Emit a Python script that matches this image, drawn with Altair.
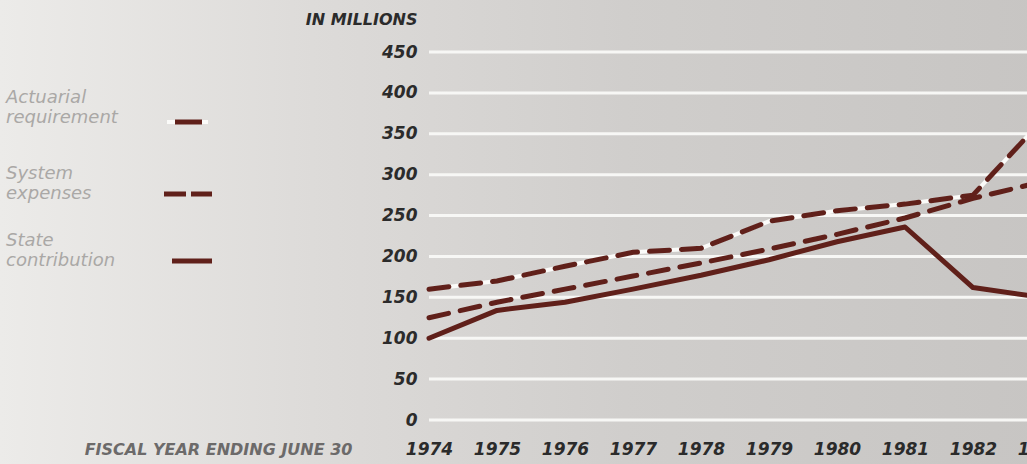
import altair as alt
import pandas as pd

# Retirement system funding, fiscal years 1974-1983 (millions of dollars)
years = list(range(1974, 1984))
actuarial_requirement = [160, 170, 188, 205, 210, 243, 256, 264, 275, 365]
system_expenses = [125, 144, 160, 176, 192, 209, 227, 247, 271, 291]
state_contribution = [100, 134, 144, 160, 177, 196, 218, 236, 162, 150]
y_ticks = list(range(0, 451, 50))

MAROON = "#60201a"
GRID = "#f7f7f5"
LABEL_FONT = "DejaVu Sans"
DARK = "#2b2b2b"
FADED = "#aaa8a6"

PLOT_W, PLOT_H = 612, 368

df = pd.DataFrame({
    "year": years,
    "actuarial": actuarial_requirement,
    "expenses": system_expenses,
    "state": state_contribution,
})

x_enc = alt.X(
    "year:Q",
    scale=alt.Scale(domain=[1974, 1983], nice=False, zero=False),
    axis=alt.Axis(
        values=years, format="d", grid=False, domain=False, ticks=False, tickSize=0,
        labelPadding=29, labelBaseline="middle", labelFont=LABEL_FONT, labelFontSize=17,
        labelFontStyle="italic", labelFontWeight="bold", labelColor=DARK,
        labelOverlap=False, labelFlush=False, zindex=1,
        title="FISCAL YEAR ENDING JUNE 30", titleX=-77, titleY=29, titleAlign="right",
        titleBaseline="middle", titleAngle=0, titleFont=LABEL_FONT, titleFontSize=16,
        titleFontStyle="italic", titleFontWeight="bold", titleColor="#6c6a6a",
    ),
)

y_scale = alt.Scale(domain=[0, 450], nice=False)
y_axis = alt.Axis(
    values=y_ticks, grid=False, domain=False, zindex=1,
    ticks=False, tickSize=0, labelPadding=12, labelFont=LABEL_FONT, labelFontSize=17,
    labelFontStyle="italic", labelFontWeight="bold", labelColor=DARK,
    title="IN MILLIONS", titleX=-12, titleY=-33, titleAlign="right", titleBaseline="middle",
    titleAngle=0, titleFont=LABEL_FONT, titleFontSize=16, titleFontStyle="italic",
    titleFontWeight="bold", titleColor=DARK,
)

base = alt.Chart(df)

# paper-toned backdrop spanning the whole canvas
backdrop = alt.Chart(pd.DataFrame({"k": [0]})).mark_rect(
    color=alt.Gradient(
        gradient="linear", x1=0, x2=1, y1=0, y2=0,
        stops=[
            alt.GradientStop(color="#ecebe9", offset=0),
            alt.GradientStop(color="#dddbd9", offset=0.3),
            alt.GradientStop(color="#d0cecc", offset=0.6),
            alt.GradientStop(color="#c7c5c3", offset=1),
        ],
    )
).encode(x=alt.value(-429), x2=alt.value(PLOT_W), y=alt.value(-52), y2=alt.value(PLOT_H + 44))

# white horizontal gridlines at each value tick
grid = alt.Chart(pd.DataFrame({"v": y_ticks})).mark_rule(color=GRID, strokeWidth=3).encode(
    y=alt.Y("v:Q", scale=y_scale, axis=y_axis),
    x=alt.value(0),
    x2=alt.value(PLOT_W),
)

act_under = base.mark_line(color="#fbfbf9", strokeWidth=4).encode(
    x=x_enc, y=alt.Y("actuarial:Q", scale=y_scale, axis=y_axis)
)
act_line = base.mark_line(color=MAROON, strokeWidth=5, strokeDash=[20, 12], strokeCap="round").encode(
    x=x_enc, y=alt.Y("actuarial:Q", scale=y_scale, axis=y_axis)
)
exp_line = base.mark_line(color=MAROON, strokeWidth=5, strokeDash=[20, 12], strokeCap="round").encode(
    x=x_enc, y=alt.Y("expenses:Q", scale=y_scale, axis=y_axis)
)
state_line = base.mark_line(color=MAROON, strokeWidth=5, strokeCap="round", strokeJoin="round").encode(
    x=x_enc, y=alt.Y("state:Q", scale=y_scale, axis=y_axis)
)

# hand-set key on the left
one = pd.DataFrame({"k": [0]})


def key_text(label, y):
    return alt.Chart(one).mark_text(
        text=label, align="left", baseline="alphabetic", font=LABEL_FONT, fontSize=18,
        fontStyle="italic", color=FADED, lineBreak="\n", lineHeight=20,
    ).encode(x=alt.value(-423), y=alt.value(y))


def key_rule(x1, x2, y, color=MAROON, width=5, dash=None):
    kw = dict(color=color, strokeWidth=width)
    if dash:
        kw["strokeDash"] = dash
    return alt.Chart(one).mark_rule(**kw).encode(x=alt.value(x1), x2=alt.value(x2), y=alt.value(y))


key = [
    key_text("Actuarial\nrequirement", 51),
    key_rule(-262, -221, 70, color="#fbfbf9", width=4),
    key_rule(-254, -227, 70),
    key_text("System\nexpenses", 127),
    key_rule(-265, -217, 142, dash=[22, 5]),
    key_text("State\ncontribution", 194),
    key_rule(-257, -217, 209),
]

chart = alt.layer(
    backdrop, grid, act_under, act_line, exp_line, state_line, *key
).properties(
    width=PLOT_W,
    height=PLOT_H,
    autosize=alt.AutoSizeParams(type="none"),
    padding={"left": 429, "top": 52, "right": -14, "bottom": 44},
).configure(
    background="#d6d4d2",
).configure_view(stroke=None)

chart.save("out.html", embed_options={"renderer": "svg", "actions": False})
